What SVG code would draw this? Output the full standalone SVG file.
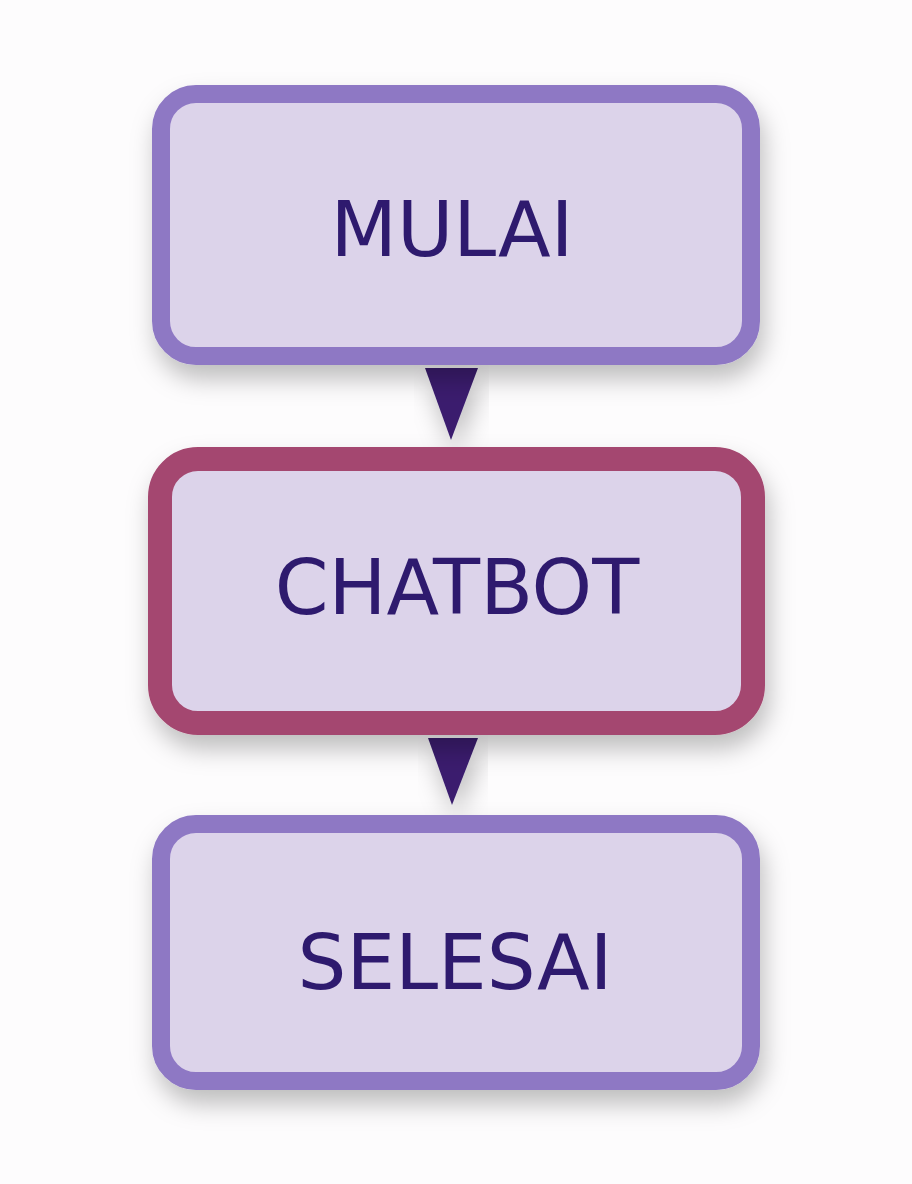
<svg xmlns="http://www.w3.org/2000/svg" width="912" height="1184" viewBox="0 0 912 1184">
<style>
.box{fill:#dcd3ea;filter:url(#sh)}
.lav{stroke:#8e78c4;stroke-width:18}
.mag{stroke:#a4476f;stroke-width:24}
.t{font-family:"DejaVu Sans",sans-serif;font-size:77px;fill:#2e1a6e;text-anchor:middle}
.arr{fill:#3a1f6e;filter:url(#sh)}
</style>
<defs>
<filter id="sh" x="-20%" y="-20%" width="140%" height="150%">
<feDropShadow dx="4" dy="14" stdDeviation="12" flood-color="#000" flood-opacity="0.25"/>
</filter>
</defs>
<rect width="912" height="1184" fill="#fdfcfd"/>
<g id="connectors">
<polygon class="arr" points="425,368 478,368 451,440"/>
<polygon class="arr" points="428,738 478,738 452,805"/>
</g>
<g id="mulai">
<rect class="box lav" x="161" y="94" width="590" height="262" rx="35"/>
<text class="t" x="452" y="256">MULAI</text>
</g>
<g id="chatbot">
<rect class="box mag" x="160" y="459" width="593" height="264" rx="38"/>
<text class="t" x="457" y="614">CHATBOT</text>
</g>
<g id="selesai">
<rect class="box lav" x="161" y="824" width="590" height="257" rx="35"/>
<text class="t" x="455" y="989">SELESAI</text>
</g>
</svg>
